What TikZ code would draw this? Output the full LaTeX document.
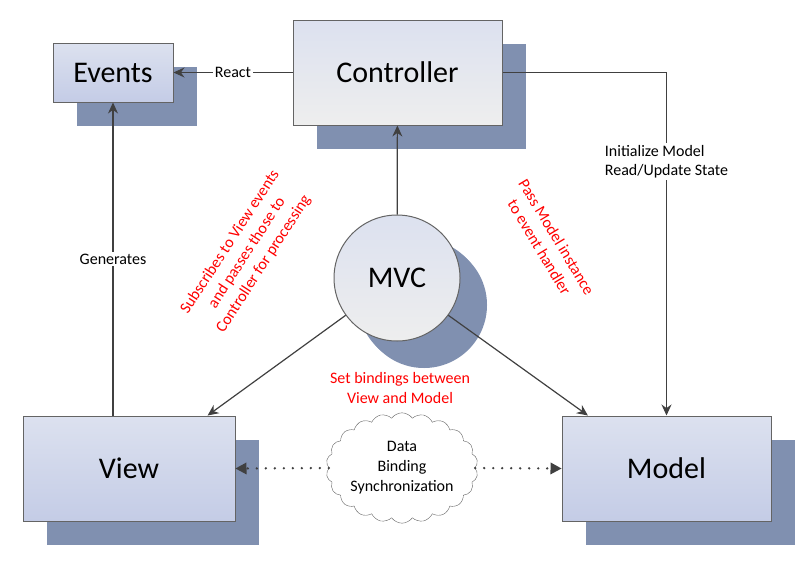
\documentclass[tikz,border=0pt]{standalone}
\usepackage{fontspec}
\setmainfont{Carlito}
\usetikzlibrary{arrows.meta,shadows,shapes.symbols}
\definecolor{cShadow}{RGB}{128,144,176}
\definecolor{cTop}{RGB}{220,225,239}
\definecolor{cBottom}{RGB}{196,204,230}
\definecolor{cGrey}{RGB}{238,238,238}
\definecolor{cLine}{RGB}{64,64,64}
\definecolor{cBorder}{RGB}{100,100,100}
\definecolor{cRed}{RGB}{255,0,0}

\tikzset{
    box/.style={draw=cBorder, line width=1pt, top color=cTop, bottom color=cBottom,
        drop shadow={shadow xshift=24pt, shadow yshift=-24pt, fill=cShadow, opacity=1},
        font=\fontsize{30}{36}\selectfont},
    arr/.style={draw=cLine, line width=1.2pt, -{Stealth[length=11pt,width=10pt]}},
    dots/.style={draw=cLine, line width=2.6pt, line cap=round, dash pattern=on 0pt off 9pt,
        -{Triangle[length=11pt,width=12pt,line width=0pt]}},
    lbl/.style={fill=white, inner sep=2pt, font=\fontsize{16}{19}\selectfont},
    note/.style={text=cRed, align=center, font=\fontsize{16}{20}\selectfont}
}

\begin{document}
\begin{tikzpicture}[x=1pt,y=-1pt]
        \useasboundingbox (0,0) rectangle (810,570);
        \node[box, minimum width=120pt, minimum height=59pt] (events) at (113,72.5) {Events};
        \node[box, minimum width=209pt, minimum height=105pt, top color=cTop, bottom color=cGrey] (ctrl) at (397.5,72.5) {Controller};
        \node[box, minimum width=212pt, minimum height=105pt] (view) at (129,468.5) {View};
        \node[box, minimum width=209pt, minimum height=105pt] (model) at (666.5,468.5) {Model};
        \node[box, circle, minimum size=126pt, top color=cTop, bottom color=cGrey,
            drop shadow={shadow xshift=27pt, shadow yshift=-27pt, fill=cShadow, opacity=1}] (mvc) at (397,278) {MVC};
        \node[cloud, draw=cBorder, fill=white, cloud puffs=22, cloud puff arc=110, aspect=1.45,
            minimum width=150pt, minimum height=104pt, inner sep=0pt, align=center,
            font=\fontsize{16}{20}\selectfont] (sync) at (402,468) {Data\\Binding\\Synchronization};

        \draw[arr] (ctrl) -- node[lbl]{React} (events);
        \draw[arr] (ctrl.east) -| node[lbl, pos=0.63, align=left]{Initialize Model\\Read/Update State} (model.north);
        \draw[arr] (events.south |- view.north) -- node[lbl]{Generates} (events.south);
        \draw[arr] (mvc) -- (ctrl);
        \draw[arr] (mvc.216) -- (view.34);
        \draw[arr] (mvc.324) -- (model.146);
        \draw[dots] (sync.west) -- (view.east);
        \draw[dots] (sync.east) -- (model.west);

        \node[note, rotate=57] (subs) at (247,253) {Subscribes to View events\\and passes those to\\Controller for processing};
        \node[note, rotate=-59] (pass) at (548,242) {Pass Model instance\\to event handler};
        \node[note] (bind) at (400,388) {Set bindings between\\View and Model};
    \end{tikzpicture}
\end{document}
